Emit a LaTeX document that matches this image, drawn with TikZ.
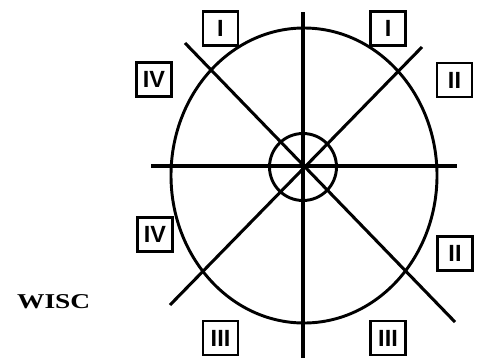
\documentclass[tikz,border=0pt]{standalone}
\usepackage{fontspec}
\newfontfamily\zonefont{Liberation Sans}
\newfontfamily\labelfont{Liberation Serif}
\usetikzlibrary{positioning}
\tikzset{
    axis/.style={draw, line width=2.6pt},
    ring/.style={draw, line width=2.5pt},
    zone/.style={draw, line width=1.9pt, minimum width=35*0.03cm, minimum height=34*0.03cm, inner sep=0pt, font=\zonefont\bfseries\fontsize{20}{20}\selectfont},
    tag/.style={font=\labelfont\bfseries\fontsize{18}{18}\selectfont}
}
\begin{document}
\begin{tikzpicture}[x=0.03cm, y=-0.03cm]
    \useasboundingbox (0,0) rectangle (483,358);
    % Nodes
    \coordinate (c) at (303,166);
    \node[ring, circle, minimum size=67*0.03cm, inner sep=0pt] (hub) at (303,167) {};
    \coordinate (w) at (151,166);
    \coordinate (e) at (457,166);
    \coordinate (n) at (303,12);
    \coordinate (s) at (303,358);
    \coordinate (nw) at (185,43);
    \coordinate (se) at (455,322);
    \coordinate (ne) at (422,47);
    \coordinate (sw) at (170,305);

    \node[zone] (I1) at (220.5,28.5) {I};
    \node[zone] (I2) at (388,28.5) {I};
    \node[zone] (IV1) at (154,79.5) {IV};
    \node[zone] (II1) at (454.5,80) {II};
    \node[zone] (IV2) at (155,234.5) {IV};
    \node[zone] (II2) at (455,253.5) {II};
    \node[zone] (III1) at (220.5,338) {III};
    \node[zone] (III2) at (388,338) {III};
    \node[tag, anchor=west] (wisc) at (13,301.5) {\scalebox{1.3}[1]{WISC}};

    % edges
    \draw[ring] (304,175.5) ellipse (133 and 147.5);
    \draw[axis] (w) -- (e);
    \draw[axis] (n) -- (s);
    \draw[axis] (nw) -- (se);
    \draw[axis] (ne) -- (sw);
\end{tikzpicture}
\end{document}
